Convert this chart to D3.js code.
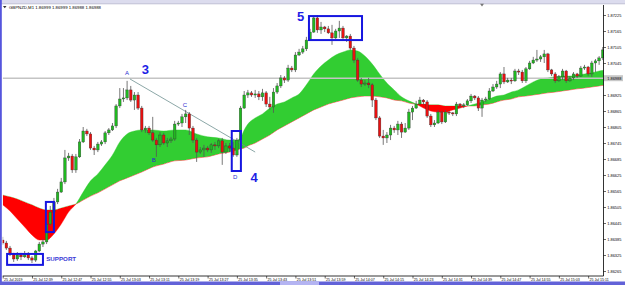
<!DOCTYPE html>
<html><head><meta charset="utf-8">
<script src="https://cdn.jsdelivr.net/npm/d3@7"></script>
<style>html,body{margin:0;padding:0;background:#fff;overflow:hidden}svg{display:block}text{font-family:"Liberation Sans",Arial,sans-serif}</style>
</head><body><svg id="c" width="625" height="285"></svg>
<script>
// ---- DATA (GBPNZD M1, bars from 25 Jul 12:31) ----
const openP=[1.86381,1.86370,1.86351,1.86329,1.86310,1.86325,1.86318,1.86329,1.86314,1.86306,1.86340,1.86366,1.86374,1.86441,1.86486,1.86524,1.86561,1.86599,1.86689,1.86696,1.86644,1.86693,1.86749,1.86790,1.86779,1.86726,1.86719,1.86741,1.86749,1.86783,1.86794,1.86809,1.86884,1.86910,1.86914,1.86944,1.86906,1.86925,1.86876,1.86794,1.86801,1.86783,1.86756,1.86738,1.86775,1.86745,1.86753,1.86760,1.86816,1.86820,1.86843,1.86854,1.86801,1.86756,1.86711,1.86719,1.86726,1.86719,1.86738,1.86734,1.86753,1.86711,1.86734,1.86726,1.86700,1.86756,1.86876,1.86925,1.86933,1.86925,1.86929,1.86918,1.86933,1.86891,1.86880,1.86936,1.86959,1.86989,1.86981,1.87026,1.87019,1.87075,1.87086,1.87098,1.87131,1.87161,1.87214,1.87169,1.87180,1.87173,1.87158,1.87139,1.87165,1.87176,1.87139,1.87146,1.87101,1.87056,1.86981,1.86966,1.86970,1.86963,1.86906,1.86839,1.86771,1.86764,1.86775,1.86801,1.86794,1.86816,1.86786,1.86801,1.86861,1.86876,1.86891,1.86906,1.86899,1.86846,1.86813,1.86820,1.86861,1.86824,1.86861,1.86858,1.86854,1.86891,1.86884,1.86888,1.86903,1.86921,1.86914,1.86876,1.86906,1.86910,1.86940,1.86955,1.86966,1.87004,1.86974,1.86981,1.86978,1.87015,1.87011,1.86978,1.87023,1.87045,1.87056,1.87060,1.87068,1.87079,1.87019,1.87004,1.86978,1.86993,1.87015,1.86978,1.86989,1.87004,1.86996,1.87026,1.87030,1.87004,1.87045,1.87053,1.87064];
const highP=[1.86393,1.86378,1.86359,1.86333,1.86336,1.86333,1.86340,1.86336,1.86321,1.86344,1.86374,1.86385,1.86449,1.86509,1.86539,1.86573,1.86614,1.86719,1.86708,1.86704,1.86704,1.86760,1.86805,1.86798,1.86786,1.86734,1.86749,1.86756,1.86790,1.86801,1.86820,1.86891,1.86951,1.86951,1.86978,1.86959,1.86936,1.86936,1.86884,1.86809,1.86809,1.86843,1.86764,1.86786,1.86783,1.86764,1.86768,1.86828,1.86828,1.86854,1.86869,1.86861,1.86809,1.86764,1.86730,1.86738,1.86734,1.86745,1.86749,1.86760,1.86764,1.86745,1.86745,1.86749,1.86764,1.86884,1.86940,1.86944,1.86940,1.86944,1.86940,1.86948,1.86940,1.86918,1.86951,1.86970,1.87000,1.86996,1.87038,1.87034,1.87086,1.87098,1.87109,1.87143,1.87173,1.87221,1.87225,1.87199,1.87184,1.87184,1.87188,1.87173,1.87203,1.87184,1.87150,1.87154,1.87109,1.87064,1.86989,1.86981,1.86989,1.86970,1.86914,1.86846,1.86794,1.86786,1.86813,1.86809,1.86828,1.86824,1.86820,1.86873,1.86884,1.86903,1.86918,1.86910,1.86906,1.86854,1.86831,1.86869,1.86865,1.86869,1.86865,1.86861,1.86899,1.86895,1.86895,1.86910,1.86929,1.86925,1.86921,1.86914,1.86918,1.86951,1.86966,1.86978,1.87011,1.87030,1.86989,1.86989,1.87023,1.87023,1.87019,1.87030,1.87053,1.87068,1.87094,1.87075,1.87094,1.87083,1.87023,1.87011,1.87000,1.87023,1.87019,1.86996,1.87011,1.87008,1.87034,1.87038,1.87034,1.87053,1.87060,1.87071,1.87105];
const lowP=[1.86363,1.86344,1.86321,1.86299,1.86303,1.86306,1.86314,1.86306,1.86295,1.86299,1.86336,1.86355,1.86366,1.86434,1.86479,1.86516,1.86558,1.86591,1.86678,1.86633,1.86633,1.86689,1.86745,1.86771,1.86719,1.86700,1.86711,1.86734,1.86741,1.86775,1.86790,1.86801,1.86876,1.86899,1.86906,1.86899,1.86869,1.86869,1.86786,1.86783,1.86775,1.86749,1.86693,1.86730,1.86738,1.86730,1.86745,1.86753,1.86809,1.86805,1.86820,1.86775,1.86745,1.86674,1.86704,1.86693,1.86711,1.86708,1.86719,1.86726,1.86663,1.86704,1.86711,1.86693,1.86693,1.86753,1.86873,1.86914,1.86918,1.86914,1.86906,1.86903,1.86880,1.86869,1.86858,1.86929,1.86951,1.86970,1.86974,1.87011,1.87011,1.87071,1.87079,1.87090,1.87128,1.87158,1.87158,1.87154,1.87161,1.87154,1.87113,1.87135,1.87139,1.87131,1.87124,1.87094,1.87045,1.86974,1.86955,1.86959,1.86951,1.86880,1.86831,1.86764,1.86738,1.86745,1.86756,1.86783,1.86775,1.86764,1.86783,1.86794,1.86831,1.86873,1.86888,1.86888,1.86839,1.86805,1.86805,1.86816,1.86816,1.86820,1.86850,1.86846,1.86846,1.86876,1.86876,1.86884,1.86895,1.86906,1.86865,1.86843,1.86899,1.86906,1.86936,1.86948,1.86951,1.86966,1.86970,1.86966,1.86974,1.87000,1.86970,1.86970,1.87019,1.87041,1.87049,1.87049,1.87045,1.87011,1.86996,1.86970,1.86974,1.86981,1.86970,1.86974,1.86981,1.86989,1.86993,1.87019,1.86996,1.86993,1.87011,1.87038,1.87056];
const closeP=[1.86370,1.86351,1.86329,1.86310,1.86325,1.86318,1.86329,1.86314,1.86306,1.86340,1.86366,1.86374,1.86441,1.86486,1.86524,1.86561,1.86599,1.86689,1.86696,1.86644,1.86693,1.86749,1.86790,1.86779,1.86726,1.86719,1.86741,1.86749,1.86783,1.86794,1.86809,1.86884,1.86910,1.86914,1.86944,1.86906,1.86925,1.86876,1.86794,1.86801,1.86783,1.86756,1.86738,1.86775,1.86745,1.86753,1.86760,1.86816,1.86820,1.86843,1.86854,1.86801,1.86756,1.86711,1.86719,1.86726,1.86719,1.86738,1.86734,1.86753,1.86711,1.86734,1.86726,1.86700,1.86756,1.86876,1.86925,1.86933,1.86925,1.86929,1.86918,1.86933,1.86891,1.86880,1.86936,1.86959,1.86989,1.86981,1.87026,1.87019,1.87075,1.87086,1.87098,1.87131,1.87161,1.87214,1.87169,1.87180,1.87173,1.87158,1.87139,1.87165,1.87176,1.87139,1.87146,1.87101,1.87056,1.86981,1.86966,1.86970,1.86963,1.86906,1.86839,1.86771,1.86764,1.86775,1.86801,1.86794,1.86816,1.86786,1.86801,1.86861,1.86876,1.86891,1.86906,1.86899,1.86846,1.86813,1.86820,1.86861,1.86824,1.86861,1.86858,1.86854,1.86891,1.86884,1.86888,1.86903,1.86921,1.86914,1.86876,1.86906,1.86910,1.86940,1.86955,1.86966,1.87004,1.86974,1.86981,1.86978,1.87015,1.87011,1.86978,1.87023,1.87045,1.87056,1.87060,1.87068,1.87079,1.87019,1.87004,1.86978,1.86993,1.87015,1.86978,1.86989,1.87004,1.86996,1.87026,1.87030,1.87004,1.87045,1.87053,1.87064,1.87094];

// cloud (two spans) sampled at bar indices
const cloudBars=[0,2,4,6,8,10,12,14,16,18,20,22,24,26,28,30,32,34,36,38,41,44,47,50,53,56,59,62,64,65,66,67,69,71,73,75,77,79,81,83,85,87,89,91,93,95,97,99,101,103,105,107,109,111,113,115,117,119,121,123,125,127,129,131,133,135,137,139,141,143,145,147,149,151,153,155,157,159,161,163,165];
const spanA=[1.86513,1.86490,1.86460,1.86430,1.86400,1.86381,1.86381,1.86404,1.86441,1.86486,1.86516,1.86561,1.86603,1.86629,1.86663,1.86700,1.86749,1.86779,1.86790,1.86794,1.86794,1.86790,1.86794,1.86794,1.86779,1.86768,1.86764,1.86756,1.86756,1.86764,1.86794,1.86816,1.86839,1.86854,1.86876,1.86891,1.86899,1.86914,1.86929,1.86963,1.87004,1.87034,1.87056,1.87075,1.87086,1.87094,1.87090,1.87071,1.87041,1.87004,1.86970,1.86944,1.86918,1.86903,1.86891,1.86876,1.86865,1.86861,1.86861,1.86869,1.86876,1.86884,1.86891,1.86899,1.86910,1.86921,1.86925,1.86936,1.86944,1.86959,1.86974,1.86985,1.86989,1.86993,1.86996,1.86996,1.87000,1.87004,1.87008,1.87015,1.87019];
const spanB=[1.86550,1.86543,1.86535,1.86524,1.86513,1.86501,1.86494,1.86494,1.86501,1.86509,1.86516,1.86531,1.86546,1.86558,1.86573,1.86588,1.86603,1.86614,1.86625,1.86636,1.86655,1.86666,1.86678,1.86681,1.86689,1.86693,1.86704,1.86711,1.86719,1.86723,1.86726,1.86734,1.86745,1.86760,1.86775,1.86794,1.86809,1.86824,1.86839,1.86854,1.86869,1.86880,1.86891,1.86899,1.86906,1.86914,1.86918,1.86921,1.86921,1.86918,1.86914,1.86906,1.86903,1.86895,1.86891,1.86891,1.86888,1.86888,1.86884,1.86884,1.86884,1.86884,1.86884,1.86888,1.86891,1.86899,1.86906,1.86910,1.86918,1.86921,1.86925,1.86929,1.86933,1.86936,1.86940,1.86944,1.86948,1.86951,1.86955,1.86959,1.86963];

const xTickBars=[0,8,16,24,32,40,48,56,64,72,80,88,96,104,112,120,128,136,144,152,160];
const xTickLabels=["25 Jul 2019","25 Jul 12:39","25 Jul 12:47","25 Jul 12:55","25 Jul 13:03","25 Jul 13:11","25 Jul 13:19","25 Jul 13:27","25 Jul 13:35","25 Jul 13:43","25 Jul 13:51","25 Jul 13:59","25 Jul 14:07","25 Jul 14:15","25 Jul 14:23","25 Jul 14:31","25 Jul 14:39","25 Jul 14:47","25 Jul 14:55","25 Jul 15:03","25 Jul 15:11"];
const yTickValues=[1.87225,1.87165,1.87105,1.87045,1.86985,1.86925,1.86865,1.86805,1.86745,1.86685,1.86625,1.86565,1.86505,1.86445,1.86385,1.86325,1.86265];
const priceLine=1.86988;
const headerText="GBPNZD,M1  1.86999 1.86999 1.86988 1.86988";

// annotations (bar index, price)
const trendLine=[[34.8,1.86985],[69,1.86711]];
const pointLabels=[["A",34.0,1.87008],["B",41.3,1.86681],["C",49.8,1.86888],["D",63.5,1.86618]];
const waveLabels=[["3",39.0,1.87021],["4",68.7,1.86618],["5",81.4,1.87219]];
const boxes=[[1.2,11.0,1.86329,1.86288],[11.8,14.0,1.86524,1.86411],[62.6,65.1,1.86790,1.86640],[83.7,98.2,1.87221,1.87131]];
const supportLabel=["SUPPORT",11.9,1.86310];

// ---- DRAW ----
const W=625,H=285, L=2.7, R=603.5, T=5, B=276;
const svg=d3.select("#c");
const x=d3.scaleLinear().domain([0,165.7]).range([L,609]);
const y=d3.scaleLinear().domain([1.86265,1.87225]).range([271,15]);

// frame
svg.append("rect").attr("x",0).attr("y",0).attr("width",W).attr("height",H).attr("fill","#fff");
svg.append("rect").attr("x",0).attr("y",0).attr("width",W).attr("height",3.5).attr("fill","#dcdcee");
svg.append("line").attr("x1",0).attr("x2",W).attr("y1",3.8).attr("y2",3.8).attr("stroke","#9a9ab8").attr("stroke-width",0.6);
svg.append("path").attr("d","M480,3.8 L484,3.8 L482,6.5 Z").attr("fill","#777");

const defs=svg.append("defs");
defs.append("clipPath").attr("id","plot").append("rect").attr("x",L).attr("y",T).attr("width",R-L).attr("height",B-T);

const idx=d3.range(cloudBars.length);
const cx=i=>x(cloudBars[i]);
const between=d3.area().x(cx).y0(i=>y(spanB[i])).y1(i=>y(spanA[i])).curve(d3.curveMonotoneX);
const aboveB=d3.area().x(cx).y0(T).y1(i=>y(spanB[i])).curve(d3.curveMonotoneX);
const belowB=d3.area().x(cx).y0(i=>y(spanB[i])).y1(B).curve(d3.curveMonotoneX);
defs.append("clipPath").attr("id","ab").append("path").attr("d",aboveB(idx));
defs.append("clipPath").attr("id","bb").append("path").attr("d",belowB(idx));

const plot=svg.append("g").attr("clip-path","url(#plot)");
plot.append("g").attr("clip-path","url(#ab)").append("path").attr("d",between(idx)).attr("fill","#32cd32").attr("stroke","#32cd32").attr("stroke-width",0.4);
plot.append("g").attr("clip-path","url(#bb)").append("path").attr("d",between(idx)).attr("fill","#ff0000").attr("stroke","#ff0000").attr("stroke-width",0.4);

// price line
plot.append("line").attr("x1",L).attr("x2",R).attr("y1",y(priceLine)).attr("y2",y(priceLine)).attr("stroke","#c4c4c4").attr("stroke-width",1.6);

// trend line
plot.append("line").attr("x1",x(trendLine[0][0])).attr("y1",y(trendLine[0][1])).attr("x2",x(trendLine[1][0])).attr("y2",y(trendLine[1][1])).attr("stroke","#6f9090").attr("stroke-width",0.8);

// candles
const bars=d3.range(openP.length);
const cg=plot.append("g");
cg.selectAll("line.w").data(bars).join("line").attr("class","w")
  .attr("x1",i=>x(i)).attr("x2",i=>x(i)).attr("y1",i=>y(highP[i])).attr("y2",i=>y(lowP[i]))
  .attr("stroke","#555").attr("stroke-width",0.8);
cg.selectAll("rect.b").data(bars).join("rect").attr("class","b")
  .attr("x",i=>x(i)-1.3).attr("width",2.6)
  .attr("y",i=>y(Math.max(openP[i],closeP[i])))
  .attr("height",i=>Math.max(1,Math.abs(y(openP[i])-y(closeP[i]))))
  .attr("fill",i=>closeP[i]>openP[i]?"#20b820":(closeP[i]<openP[i]?"#e81010":"#888"))
  .attr("stroke","#333").attr("stroke-width",0.35);

// boxes
svg.append("g").selectAll("rect").data(boxes).join("rect")
  .attr("x",d=>x(d[0])).attr("width",d=>x(d[1])-x(d[0]))
  .attr("y",d=>y(d[2])).attr("height",d=>y(d[3])-y(d[2]))
  .attr("fill","none").attr("stroke","#1616e0").attr("stroke-width",2);

// labels
svg.append("g").selectAll("text").data(pointLabels).join("text")
  .attr("x",d=>x(d[1])).attr("y",d=>y(d[2])).attr("dy","0.35em").attr("text-anchor","middle")
  .attr("font-size",6).attr("fill","#2a2ad0").text(d=>d[0]);
svg.append("g").selectAll("text").data(waveLabels).join("text")
  .attr("x",d=>x(d[1])).attr("y",d=>y(d[2])).attr("dy","0.36em").attr("text-anchor","middle")
  .attr("font-size",13).attr("font-weight","bold").attr("fill","#1e1ee6").text(d=>d[0]);
svg.append("text").attr("x",x(supportLabel[1])).attr("y",y(supportLabel[2])).attr("dy","0.35em")
  .attr("font-size",6.2).attr("font-weight","bold").attr("fill","#3b3bd6").text(supportLabel[0]);

// axes
const gx=svg.append("g").attr("transform",`translate(0,${B})`)
  .call(d3.axisBottom(x).tickValues(xTickBars).tickFormat((d,i)=>xTickLabels[i]).tickSize(2.5).tickSizeOuter(0));
gx.select(".domain").remove();
gx.selectAll(".tick line").attr("stroke","#000").attr("stroke-width",0.6);
gx.selectAll(".tick text").attr("text-anchor","start").attr("x",0.8).attr("y",2.2).attr("dy","0.7em")
  .attr("font-size",3.6).attr("fill","#000").style("font-family","'Liberation Sans',Arial,sans-serif");

const gy=svg.append("g").attr("transform",`translate(${R},0)`)
  .call(d3.axisRight(y).tickValues(yTickValues).tickFormat(d3.format(".5f")).tickSize(2.5).tickSizeOuter(0));
gy.select(".domain").remove();
gy.selectAll(".tick line").attr("stroke","#000").attr("stroke-width",0.6);
gy.selectAll(".tick text").attr("x",3.8).attr("font-size",3.9).attr("fill","#000").style("font-family","'Liberation Sans',Arial,sans-serif");

// price label
svg.append("rect").attr("x",R+0.5).attr("y",y(priceLine)-3).attr("width",19).attr("height",6).attr("fill","#c8c8c8");
svg.append("text").attr("x",R+3.8).attr("y",y(priceLine)).attr("dy","0.35em").attr("font-size",3.9).attr("fill","#000").text(d3.format(".5f")(priceLine));

// axis lines
svg.append("line").attr("x1",L).attr("x2",R).attr("y1",B).attr("y2",B).attr("stroke","#000").attr("stroke-width",0.8);
svg.append("line").attr("x1",R).attr("x2",R).attr("y1",T).attr("y2",B).attr("stroke","#000").attr("stroke-width",0.8);

// header
svg.append("path").attr("d","M3,6 L6.5,6 L4.75,8.2 Z").attr("fill","#333");
svg.append("text").attr("x",9).attr("y",7).attr("dy","0.35em").attr("font-size",4.3).attr("fill","#000").text(headerText);

// window borders
svg.append("rect").attr("x",0).attr("y",0).attr("width",1.8).attr("height",H).attr("fill","#5555dd");
svg.append("rect").attr("x",0).attr("y",281.5).attr("width",W).attr("height",3.5).attr("fill","#6262d8");
svg.append("rect").attr("x",280).attr("y",281.5).attr("width",39).attr("height",3.5).attr("fill","#b4b4f2");
</script></body></html>
